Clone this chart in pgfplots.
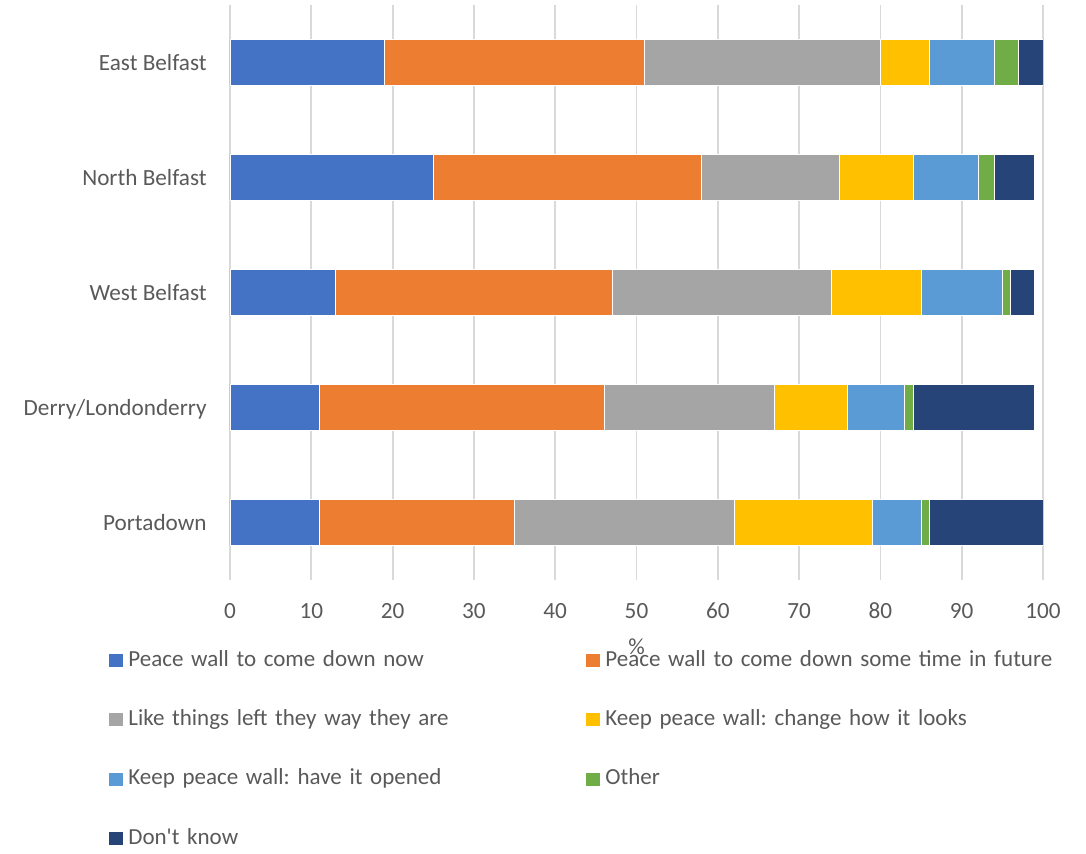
\documentclass[border=0pt]{standalone}
\usepackage{fontspec}
\setmainfont{Carlito}
\usepackage{pgfplots}
\pgfplotsset{compat=1.18}
\frenchspacing
\definecolor{cA}{HTML}{4472C4}
\definecolor{cB}{HTML}{ED7D31}
\definecolor{cC}{HTML}{A5A5A5}
\definecolor{cD}{HTML}{FFC000}
\definecolor{cE}{HTML}{5B9BD5}
\definecolor{cF}{HTML}{70AD47}
\definecolor{cG}{HTML}{264478}
\definecolor{textgray}{HTML}{595959}
\definecolor{gridgray}{HTML}{D9D9D9}
\begin{document}
\begin{tikzpicture}
\useasboundingbox (0,0) rectangle (543pt,426.5pt);
\begin{axis}[
  at={(115pt,136.75pt)}, anchor=south west,
  scale only axis, width=406.5pt, height=287.5pt,
  xbar stacked, bar width=23pt,
  xmin=0, xmax=100, ymin=-0.5, ymax=4.5,
  xtick={0,10,...,100},
  ytick={0,1,2,3,4},
  yticklabels={Portadown,Derry/Londonderry,West Belfast,North Belfast,East Belfast},
  /pgf/number format/assume math mode=true,
  axis line style={draw=none},
  tick style={draw=none},
  xmajorgrids, major grid style={color=gridgray, line width=0.9pt},
  ticklabel style={font=\fontsize{11.6}{13}\selectfont, text=textgray, inner sep=0pt},
  xticklabel style={anchor=base, yshift=-19.25pt},
  yticklabel style={anchor=base east, xshift=-11.5pt, yshift=-4pt},
  xlabel={\%},
  xlabel style={at={(axis description cs:0.5,-0.1174)}, anchor=center, font=\fontsize{11.5}{13}\selectfont, text=textgray},
  every axis plot/.append style={draw=white, line width=0.4pt,
    legend image code/.code={\fill[#1,draw=none] (0pt,-3.25pt) rectangle (7pt,3.25pt);}},
  legend columns=2,
  legend style={
    at={(axis description cs:-0.14883,-0.12261)}, anchor=north west,
    draw=none, fill=none, inner sep=0pt, outer sep=0pt,
    column sep=0pt, row sep=19.2pt,
    font=\fontsize{11.5}{13}\selectfont, text=textgray,
    nodes={inner sep=0pt, text height=8pt, text depth=2.5pt, text width=228.8pt, align=left, anchor=west},
    /tikz/every odd column/.append style={column sep=2.7pt},
  },
]
\addplot[fill=cA] coordinates {(19,4) (25,3) (13,2) (11,1) (11,0)};
\addplot[fill=cB] coordinates {(32,4) (33,3) (34,2) (35,1) (24,0)};
\addplot[fill=cC] coordinates {(29,4) (17,3) (27,2) (21,1) (27,0)};
\addplot[fill=cD] coordinates {(6,4) (9,3) (11,2) (9,1) (17,0)};
\addplot[fill=cE] coordinates {(8,4) (8,3) (10,2) (7,1) (6,0)};
\addplot[fill=cF] coordinates {(3,4) (2,3) (1,2) (1,1) (1,0)};
\addplot[fill=cG] coordinates {(3,4) (5,3) (3,2) (15,1) (14,0)};
\legend{Peace wall to come down now,Peace wall to come down some time in future,Like things left they way they are,Keep peace wall: change how it looks,Keep peace wall: have it opened,Other,Don\textquotesingle t know}
\end{axis}
\end{tikzpicture}
\end{document}
